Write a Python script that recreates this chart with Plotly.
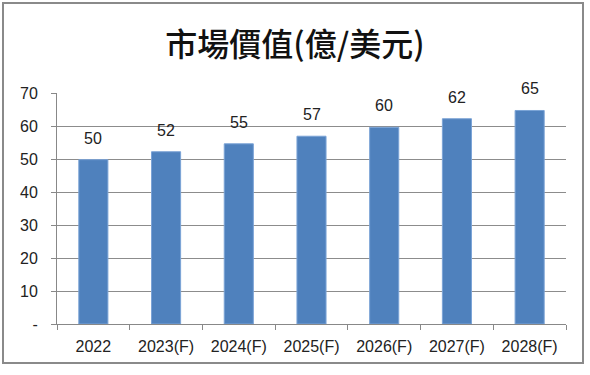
import plotly.graph_objects as go

categories = ["2022", "2023(F)", "2024(F)", "2025(F)", "2026(F)", "2027(F)", "2028(F)"]
values = [49.8, 52.2, 54.6, 56.9, 59.6, 62.2, 64.7]
labels = ["50", "52", "55", "57", "60", "62", "65"]
y_tickvals = [0, 10, 20, 30, 40, 50, 60, 70]
y_ticktext = ["-", "10", "20", "30", "40", "50", "60", "70"]
title_text = "市場價值(億/美元)"

font_fam = "Liberation Sans, Noto Sans CJK TC, sans-serif"
W, H = 590, 375
L, R, T, B = 57, 24, 93, 51
pw, ph = W - L - R, H - T - B

fig = go.Figure()
fig.add_trace(go.Bar(
    x=categories, y=values,
    marker=dict(color="#4F81BD", line=dict(color="#7BA3D6", width=1)),
    width=0.4,
))
for i, (v, t) in enumerate(zip(values, labels)):
    fig.add_annotation(x=i, y=v, xref="x", yref="y", text=t, showarrow=False,
                       yanchor="bottom", yshift=11,
                       font=dict(size=16, color="#222222", family=font_fam))

fig.update_layout(
    width=W, height=H,
    margin=dict(l=L, r=R, t=T, b=B),
    paper_bgcolor="white", plot_bgcolor="white",
    showlegend=False,
    title=dict(text=title_text, x=0.5, xanchor="center", y=1 - 44.5 / H, yanchor="middle",
               font=dict(size=32, color="#111111", weight=500,
                         family="Noto Sans CJK TC, sans-serif")),
    font=dict(family=font_fam, size=16, color="#222222"),
    xaxis=dict(type="category", categoryorder="array", categoryarray=categories,
               range=[-0.5, len(categories) - 0.5],
               showline=True, linecolor="#888888", linewidth=1,
               ticks="outside", ticklen=5, tickcolor="#888888", tickson="boundaries",
               ticklabelstandoff=8, tickangle=0,
               tickfont=dict(size=16, color="#222222")),
    yaxis=dict(range=[0, 70], tickvals=y_tickvals, ticktext=y_ticktext,
               showgrid=True, gridcolor="#8c8c8c", gridwidth=1,
               showline=True, linecolor="#888888", linewidth=1,
               ticks="outside", ticklen=5, tickcolor="#888888",
               ticklabelstandoff=10,
               tickfont=dict(size=16, color="#222222"), zeroline=False),
    shapes=[dict(type="rect", xref="paper", yref="paper",
                 x0=(3 - L) / pw, x1=(583 - L) / pw,
                 y0=-(363 - (H - B)) / ph, y1=((H - B) - 3) / ph,
                 line=dict(color="#8a8a8a", width=2), fillcolor="rgba(0,0,0,0)", layer="below")],
)

fig.write_html("out.html", config={"displayModeBar": False},
               post_script="document.body.style.margin='0';")
